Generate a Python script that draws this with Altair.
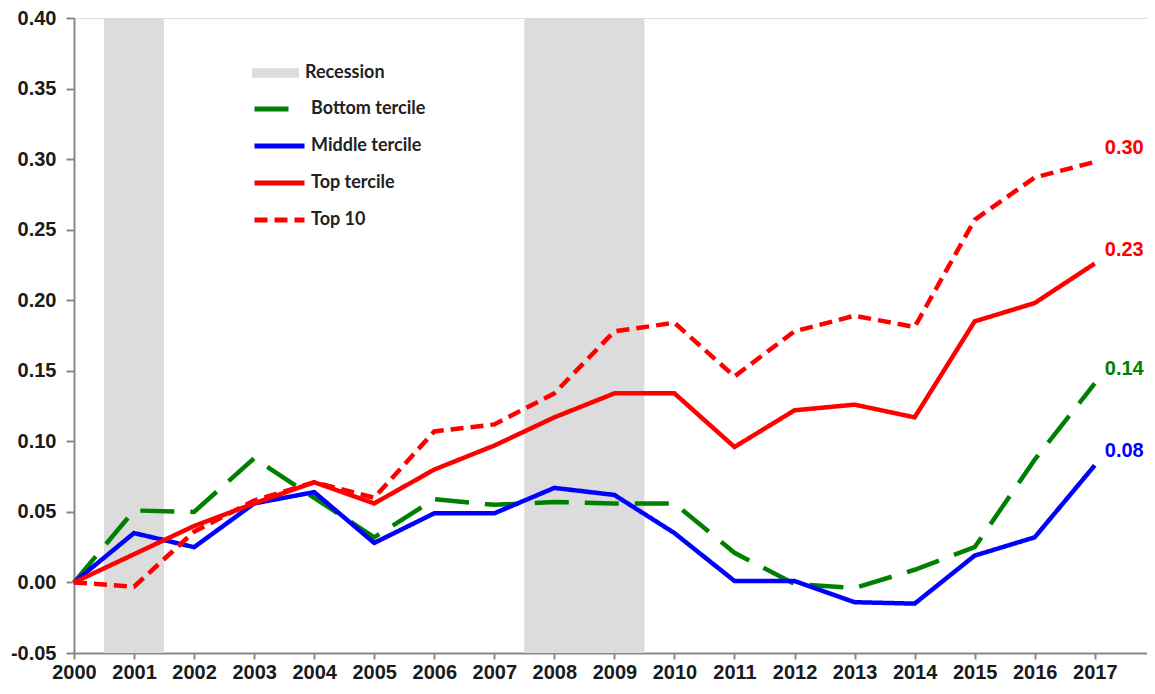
import altair as alt
import pandas as pd

years = list(range(2000, 2018))
bottom = [0.000, 0.051, 0.050, 0.088, 0.060, 0.032, 0.059, 0.055, 0.057, 0.056, 0.056, 0.021, -0.001, -0.004, 0.009, 0.025, 0.087, 0.141]
middle = [0.000, 0.035, 0.025, 0.056, 0.064, 0.028, 0.049, 0.049, 0.067, 0.062, 0.035, 0.001, 0.001, -0.014, -0.015, 0.019, 0.032, 0.083]
top = [0.000, 0.020, 0.040, 0.056, 0.071, 0.056, 0.080, 0.097, 0.117, 0.134, 0.134, 0.096, 0.122, 0.126, 0.117, 0.185, 0.198, 0.226]
top10 = [0.000, -0.003, 0.036, 0.058, 0.071, 0.060, 0.107, 0.112, 0.134, 0.178, 0.184, 0.146, 0.178, 0.189, 0.181, 0.257, 0.287, 0.298]

series_names = ["Bottom tercile", "Middle tercile", "Top tercile", "Top 10"]
series_colors = ["#008000", "#0000FF", "#FF0000", "#FF0000"]
series_dashes = [[34, 16], [1, 0], [1, 0], [13, 7]]
end_labels = ["0.14", "0.08", "0.23", "0.30"]

rec_start = [2000.5, 2007.5]
rec_end = [2001.5, 2009.5]
rec_label = ["Recession", "Recession"]

y_ticks = [-0.05, 0.0, 0.05, 0.10, 0.15, 0.20, 0.25, 0.30, 0.35, 0.40]

rows = []
for name, vals in zip(series_names, [bottom, middle, top, top10]):
    for yr, v in zip(years, vals):
        rows.append({"year": yr, "value": v, "series": name})
df = pd.DataFrame(rows)

ends = pd.DataFrame({
    "year": [years[-1]] * 4,
    "value": [bottom[-1], middle[-1], top[-1], top10[-1]],
    "series": series_names,
    "label": end_labels,
})

rec = pd.DataFrame({"start": rec_start, "end": rec_end, "label": rec_label})

xscale = alt.Scale(domain=[2000, 2017.87], nice=False, zero=False)
yscale = alt.Scale(domain=[-0.05, 0.40], nice=False, zero=False)
cscale = alt.Scale(domain=series_names, range=series_colors)
dscale = alt.Scale(domain=series_names, range=series_dashes)

tick_font = "Liberation Sans"
leg_font = "Lato"

recession = alt.Chart(rec).mark_rect(color="#DCDCDC").encode(
    x=alt.X("start:Q", scale=xscale,
            axis=alt.Axis(values=years, format="d", title=None, grid=False,
                          labelFont=tick_font, labelFontSize=20, labelFontWeight="bold",
                          labelColor="#1a1a1a", tickColor="#888888", tickSize=6,
                          domainColor="#888888", domainWidth=2, tickWidth=2,
                          labelPadding=3, labelFlush=False)),
    x2="end:Q",
    y=alt.datum(0.40, type="quantitative", scale=yscale,
                axis=alt.Axis(values=y_ticks, title=None, grid=False,
                              labelExpr="(datum.value < 0 ? '-' : '') + format(abs(datum.value), '.2f')",
                              labelFont=tick_font, labelFontSize=20, labelFontWeight="bold",
                              labelColor="#1a1a1a", tickColor="#888888", tickSize=8,
                              domainColor="#888888", domainWidth=2, tickWidth=2,
                              labelPadding=10)),
    y2=alt.datum(-0.05),
    fill=alt.Fill("label:N", scale=alt.Scale(domain=["Recession"], range=["#DCDCDC"]),
                  legend=alt.Legend(orient="none", legendX=178, legendY=45, title=None,
                                    symbolType="M-1,-0.2H1V0.2H-1Z", symbolSize=2209,
                                    symbolStrokeWidth=0, labelFont=leg_font, labelFontSize=18,
                                    labelFontWeight="bold", labelColor="#222222",
                                    labelOffset=6, clipHeight=20)),
)

lines = alt.Chart(df).mark_line(strokeWidth=4.5).encode(
    x=alt.X("year:Q", scale=xscale),
    y=alt.Y("value:Q", scale=yscale),
    color=alt.Color("series:N", scale=cscale,
                    legend=alt.Legend(orient="none", legendX=178, legendY=81, title=None,
                                      symbolType="stroke", symbolSize=2500, symbolStrokeWidth=5,
                                      labelFont=leg_font, labelFontSize=18, labelFontWeight="bold",
                                      labelColor="#222222", labelOffset=4, rowPadding=17,
                                      clipHeight=20)),
    strokeDash=alt.StrokeDash("series:N", scale=dscale),
)

labels = alt.Chart(ends).mark_text(align="left", baseline="middle", dx=10, dy=-14,
                                   font=tick_font, fontSize=20, fontWeight="bold").encode(
    x=alt.X("year:Q", scale=xscale),
    y=alt.Y("value:Q", scale=yscale),
    text="label:N",
    color=alt.Color("series:N", scale=cscale),
)

chart = alt.layer(recession, lines, labels).properties(
    width=1073, height=635,
    autosize=alt.AutoSizeParams(type="none"),
    padding={"left": 66, "top": 10, "right": 0, "bottom": 33},
).configure_view(stroke="#888888", strokeWidth=2).configure(background="white")

chart.save("out.html", embed_options={"renderer": "svg", "actions": False})
